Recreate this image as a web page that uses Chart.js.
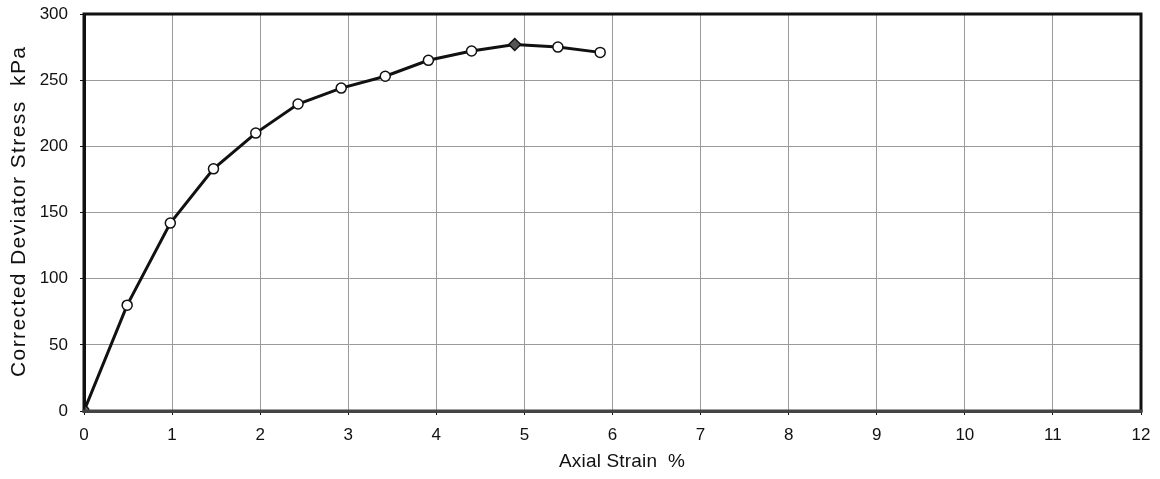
<!DOCTYPE html>
<html>
<head>
<meta charset="utf-8">
<title>Corrected Deviator Stress vs Axial Strain</title>
<script src="https://cdn.jsdelivr.net/npm/chart.js@4/dist/chart.umd.min.js"></script>
<style>
  html, body { margin: 0; padding: 0; background: #fff; }
  #wrap { position: relative; width: 1160px; height: 479px; }
</style>
</head>
<body>
<div id="wrap"><canvas id="stressChart" width="1160" height="479"></canvas></div>
<script>
// Axial strain (%) and corrected deviator stress (kPa) readings
const strain = [0, 0.49, 0.98, 1.47, 1.95, 2.43, 2.92, 3.42, 3.91, 4.40, 4.89, 5.38, 5.86];
const stress = [0, 80, 142, 183, 210, 232, 244, 253, 265, 272, 277, 275, 271];
const peakIndex = 10;

const xTicks = [0, 1, 2, 3, 4, 5, 6, 7, 8, 9, 10, 11, 12];
const yTicks = [0, 50, 100, 150, 200, 250, 300];

const xTitle = 'Axial Strain  %';
const yTitle = 'Corrected Deviator Stress  kPa';

const FONT = 'Arial, "Liberation Sans", sans-serif';

// draws text one glyph at a time, spread out to a given total width
function spacedText(ctx, text, cx, cy, width) {
    const chars = [...text];
    const natural = chars.reduce((s, c) => s + ctx.measureText(c).width, 0);
    const gap = chars.length > 1 ? (width - natural) / (chars.length - 1) : 0;
    let x = cx - width / 2;
    ctx.textAlign = 'left';
    ctx.textBaseline = 'middle';
    for (const c of chars) {
        ctx.fillText(c, x, cy);
        x += ctx.measureText(c).width + gap;
    }
}

// heavy frame round the plot area plus the two axis titles
const frame = {
    id: 'frame',
    afterDraw(chart) {
        const { ctx, chartArea: a } = chart;
        ctx.save();
        ctx.lineCap = 'square';
        ctx.strokeStyle = '#111';
        ctx.lineWidth = 3;
        ctx.beginPath();
        ctx.moveTo(a.left, a.bottom);
        ctx.lineTo(a.left, a.top);
        ctx.lineTo(a.right, a.top);
        ctx.lineTo(a.right, a.bottom);
        ctx.stroke();
        ctx.strokeStyle = '#444';
        ctx.beginPath();
        ctx.moveTo(a.left, a.bottom);
        ctx.lineTo(a.right, a.bottom);
        ctx.stroke();

        ctx.fillStyle = '#111';
        ctx.font = '19px ' + FONT;
        spacedText(ctx, xTitle, 622, 462, 126);

        ctx.font = '21px ' + FONT;
        ctx.translate(19, 212);
        ctx.rotate(-Math.PI / 2);
        spacedText(ctx, yTitle, 0, 0, 330);
        ctx.restore();
    }
};

const points = strain.map((x, i) => ({ x, y: stress[i] }));

new Chart(document.getElementById('stressChart'), {
    type: 'scatter',
    data: {
        datasets: [{
            data: points,
            showLine: true,
            borderColor: '#111',
            borderWidth: 3,
            tension: 0,
            pointStyle: points.map((p, i) => i === peakIndex ? 'rectRot' : 'circle'),
            pointRadius: points.map((p, i) => i === peakIndex ? 6 : 5),
            pointBorderWidth: 1.5,
            pointBorderColor: '#111',
            pointBackgroundColor: points.map((p, i) => i === 0 ? '#777' : i === peakIndex ? '#555' : '#fff')
        }]
    },
    options: {
        responsive: false,
        animation: false,
        layout: { padding: { top: 14, right: 19, left: 0, bottom: 0 } },
        plugins: { legend: { display: false }, tooltip: { enabled: false } },
        scales: {
            x: {
                type: 'linear',
                min: 0, max: 12,
                afterBuildTicks: s => { s.ticks = xTicks.map(v => ({ value: v })); },
                afterFit: s => { s.height = 68; s.paddingLeft = 0; s.paddingRight = 0; },
                grid: { color: '#9a9a9a', lineWidth: 1, tickColor: '#111', tickLength: 4 },
                border: { color: '#444', width: 3 },
                ticks: { color: '#111', padding: 10, font: { family: FONT, size: 17 } }
            },
            y: {
                min: 0, max: 300,
                afterBuildTicks: s => { s.ticks = yTicks.map(v => ({ value: v })); },
                afterFit: s => { s.width = 84; s.paddingTop = 0; s.paddingBottom = 0; },
                grid: { color: '#9a9a9a', lineWidth: 1, tickColor: '#111', tickLength: 4 },
                border: { color: '#111', width: 3 },
                ticks: { color: '#111', padding: 12, font: { family: FONT, size: 17 } }
            }
        }
    },
    plugins: [frame]
});
</script>
</body>
</html>
